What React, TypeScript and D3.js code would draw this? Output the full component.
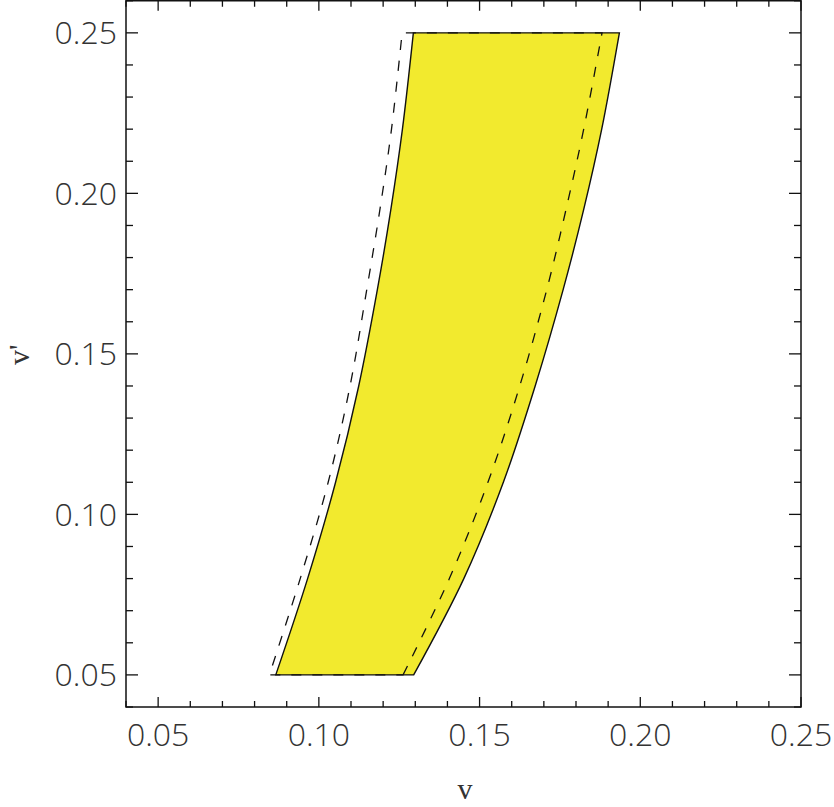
import React from "react";
import * as d3 from "d3";

// v' sample levels and the v positions of each boundary
const vPrime = [0.05, 0.08, 0.11, 0.14, 0.17, 0.195, 0.22, 0.25];
const leftSolid = [0.0866, 0.0965, 0.1052, 0.1124, 0.1182, 0.1224, 0.126, 0.1294];
const rightSolid = [0.1295, 0.1451, 0.1574, 0.1673, 0.176, 0.1824, 0.188, 0.1935];
const leftDashed = [0.0846, 0.0942, 0.1029, 0.1097, 0.1149, 0.119, 0.1226, 0.1259];
const rightDashed = [0.1262, 0.1406, 0.1526, 0.1625, 0.1709, 0.1769, 0.1824, 0.1881];

const xTickLabels = [0.05, 0.1, 0.15, 0.2, 0.25];
const yTickLabels = [0.05, 0.1, 0.15, 0.2, 0.25];

const width = 834;
const height = 807;
const plot = { left: 126, right: 801, top: 0.75, bottom: 707 };

const App = () => {
  const x = d3.scaleLinear().domain([0.04, 0.25]).range([plot.left, plot.right]);
  const y = d3.scaleLinear().domain([0.04, 0.26]).range([plot.bottom, plot.top]);

  const band = (lo: number[], hi: number[]) =>
    d3
      .area<number>()
      .y((d) => y(d))
      .x0((_, i) => x(lo[i]))
      .x1((_, i) => x(hi[i]))
      .curve(d3.curveCatmullRom)(vPrime) + "Z";

  const xMinor = d3.range(0.04, 0.2501, 0.01);
  const yMinor = d3.range(0.04, 0.2601, 0.01);
  const isMajor = (v: number) => Math.abs(Math.round(v * 20) - v * 20) < 1e-6;

  const fmt = d3.format(".2f");
  const labelFont = "'Open Sans', 'Liberation Sans', Arial, sans-serif";
  const serif = "'Liberation Serif', 'Times New Roman', serif";

  return (
    <svg
      width={width}
      height={height}
      style={{ position: "absolute", left: 0, top: 0, background: "#fff" }}
    >
      <path d={band(leftSolid, rightSolid)} fill="#f2ea2e" stroke="#111" strokeWidth={1.4} />
      <path
        d={band(leftDashed, rightDashed)}
        fill="none"
        stroke="#111"
        strokeWidth={1.3}
        strokeDasharray="10,11"
      />

      <rect
        x={plot.left}
        y={plot.top}
        width={plot.right - plot.left}
        height={plot.bottom - plot.top}
        fill="none"
        stroke="#111"
        strokeWidth={1.5}
      />

      {/* x ticks, bottom and top */}
      {xMinor.map((v) => {
        const len = isMajor(v) ? 10 : 6;
        return (
          <g key={"x" + v} stroke="#111" strokeWidth={1.3}>
            <line x1={x(v)} x2={x(v)} y1={plot.bottom} y2={plot.bottom - len} />
            <line x1={x(v)} x2={x(v)} y1={plot.top} y2={plot.top + len} />
          </g>
        );
      })}
      {/* y ticks, left and right */}
      {yMinor.map((v) => {
        const len = isMajor(v) ? 12 : 7;
        return (
          <g key={"y" + v} stroke="#111" strokeWidth={1.3}>
            <line x1={plot.left} x2={plot.left + len} y1={y(v)} y2={y(v)} />
            <line x1={plot.right} x2={plot.right - len} y1={y(v)} y2={y(v)} />
          </g>
        );
      })}

      {xTickLabels.map((v) => (
        <text
          key={"xl" + v}
          x={x(v)}
          y={746}
          textAnchor="middle"
          fontFamily={labelFont}
          fontWeight={300}
          fontSize={32}
          fill="#333"
        >
          {fmt(v)}
        </text>
      ))}
      {yTickLabels.map((v) => (
        <text
          key={"yl" + v}
          x={117}
          y={y(v)}
          dy="0.36em"
          textAnchor="end"
          fontFamily={labelFont}
          fontWeight={300}
          fontSize={32}
          fill="#333"
        >
          {fmt(v)}
        </text>
      ))}

      <text x={465} y={799} textAnchor="middle" fontFamily={serif} fontSize={30} fill="#333">
        v
      </text>
      <text
        transform="translate(29, 365) rotate(-90)"
        textAnchor="start"
        fontFamily={serif}
        fontSize={30}
        fill="#333"
      >
        v'
      </text>
    </svg>
  );
};

export default App;
